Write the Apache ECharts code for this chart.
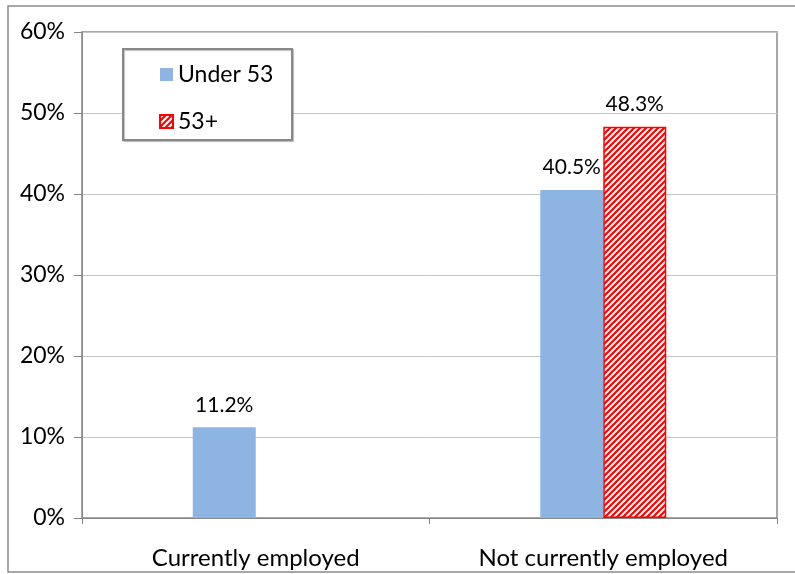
<!DOCTYPE html>
<html>
<head>
<meta charset="utf-8">
<script src="https://cdn.jsdelivr.net/npm/echarts@6/dist/echarts.min.js"></script>
<style>
html,body{margin:0;padding:0;background:#fff;}
#chart{width:795px;height:574px;}
</style>
</head>
<body>
<div id="chart"></div>
<script>
var categories = ['Currently employed', 'Not currently employed'];
var under53 = [11.2, 40.5];
var over53 = [null, 48.3];
var seriesNames = ['Under 53', '53+'];
var yTicks = [0, 10, 20, 30, 40, 50, 60];

var FONT = 'Lato';

function makePattern() {
  var s = 6;
  var c = document.createElement('canvas');
  c.width = s; c.height = s;
  var g = c.getContext('2d');
  g.fillStyle = '#ffffff';
  g.fillRect(0, 0, s, s);
  g.strokeStyle = '#ff0000';
  g.lineWidth = 2.2;
  g.beginPath();
  g.moveTo(-s, s); g.lineTo(s, -s);
  g.moveTo(0, 2 * s); g.lineTo(2 * s, 0);
  g.moveTo(-s, 2 * s); g.lineTo(2 * s, -s);
  g.stroke();
  return c;
}

var chart = echarts.init(document.getElementById('chart'), null, {renderer: 'canvas'});
var labelStyle = {
  show: true,
  position: 'top',
  distance: 12,
  fontFamily: FONT,
  fontSize: 21,
  color: '#000',
  formatter: function (p) { return p.value == null ? '' : p.value.toFixed(1) + '%'; }
};

chart.setOption({
  animation: false,
  backgroundColor: '#fff',
  graphic: [
    {type: 'rect', shape: {x: 8, y: 6, width: 800, height: 566}, style: {fill: 'none', stroke: '#8a8a8a', lineWidth: 1.5}, z: -10},
    {type: 'rect', shape: {x: 123, y: 49, width: 169, height: 91}, style: {fill: '#fff', stroke: '#888', lineWidth: 2, shadowColor: 'rgba(0,0,0,0.25)', shadowOffsetX: 1, shadowOffsetY: 1, shadowBlur: 1}, z: 5}
  ],
  grid: {left: 82, right: 18, top: 32, bottom: 56, show: true, borderColor: '#8c8c8c', borderWidth: 1.5},
  legend: {
    orient: 'vertical',
    left: 154,
    top: 58,
    itemGap: 24,
    itemWidth: 13,
    itemHeight: 13,
    icon: 'rect',
    z: 10,
    textStyle: {fontFamily: FONT, fontSize: 23, color: '#000'},
    data: seriesNames
  },
  xAxis: {
    type: 'category',
    data: categories,
    axisLine: {lineStyle: {color: '#868686', width: 1}},
    axisTick: {show: true, length: 6, lineStyle: {color: '#868686'}},
    axisLabel: {fontFamily: FONT, fontSize: 24, color: '#000', margin: 28}
  },
  yAxis: {
    type: 'value',
    min: 0, max: 60, interval: 10,
    axisLine: {show: true, lineStyle: {color: '#868686', width: 1}},
    axisTick: {show: true, length: 8, lineStyle: {color: '#868686'}},
    splitLine: {lineStyle: {color: '#c6c6c6'}},
    axisLabel: {fontFamily: FONT, fontSize: 23, color: '#000', margin: 17,
      formatter: function (v) { return yTicks.indexOf(v) >= 0 ? v + '%' : ''; }}
  },
  series: [
    {
      name: seriesNames[0], type: 'bar', data: under53,
      barWidth: 63, barGap: '0%',
      itemStyle: {color: '#8eb4e3'},
      label: labelStyle
    },
    {
      name: seriesNames[1], type: 'bar', data: over53,
      barWidth: 63,
      itemStyle: {color: {image: makePattern(), repeat: 'repeat'}, borderColor: '#ff0000', borderWidth: 1.5},
      label: labelStyle
    }
  ]
});
</script>
</body>
</html>
